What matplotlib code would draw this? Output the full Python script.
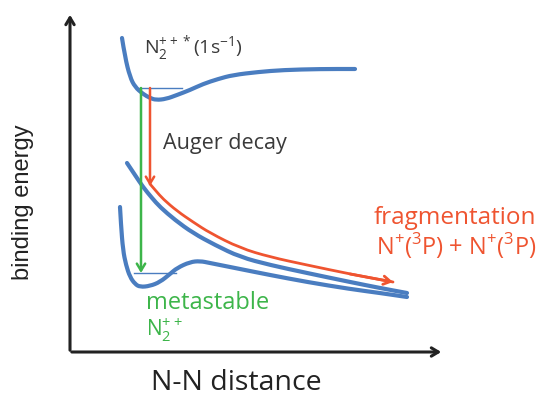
import numpy as np
import matplotlib.pyplot as plt
from matplotlib.path import Path
from matplotlib.patches import PathPatch

plt.rcParams['font.family'] = ['Open Sans', 'DejaVu Sans']

# curves (x = N-N distance, y = binding energy, in picture units)
upper_x = [122, 125, 130, 135, 143, 150, 156, 166, 177, 190, 203, 218, 233, 258, 283, 320, 355]
upper_y = [38, 57, 77, 87, 94, 98, 100, 99, 95, 90, 84, 79, 75, 72, 70, 69, 69]

dissoc_x = [127, 135, 143, 152, 160, 175, 193, 215, 240, 270, 307, 350, 380, 407]
dissoc_y = [163, 175, 187, 198, 207, 220, 233, 245, 257, 265, 273, 282, 288, 293]

meta_x = [120, 121, 123, 126, 130, 135, 140, 150, 160, 170, 177, 190, 200, 210, 225, 240, 270, 307, 350, 380, 407]
meta_y = [207, 225, 250, 265, 277, 284, 287, 286, 282, 274, 268, 262, 261, 263, 266, 269, 275, 282, 289, 293, 297]

frag_x = [150, 156, 163, 177, 193, 210, 240, 270, 307, 350, 393]
frag_y = [184, 191, 199, 211, 222, 233, 248, 257, 265, 274, 282]

level_upper = (88, 137, 182)   # y, x0, x1
level_meta = (273, 134, 176)
auger = (150, 88, 186)         # x, y0, y1
green = (141, 88, 273)

blue = '#4a7dc0'
red = '#ef5430'
grn = '#3db54a'
txt = '#3a3a3a'


def smooth_path(xs, ys):
    # quadratic B-spline through the traced control points
    pts = list(zip(xs, ys))
    verts = [pts[0]]
    codes = [Path.MOVETO]
    for i in range(1, len(pts) - 1):
        mid = ((pts[i][0] + pts[i + 1][0]) / 2, (pts[i][1] + pts[i + 1][1]) / 2)
        verts += [pts[i], mid]
        codes += [Path.CURVE3, Path.CURVE3]
    verts.append(pts[-1])
    codes.append(Path.LINETO)
    return Path(verts, codes)


fig = plt.figure(figsize=(5.43, 4.01), dpi=100)
ax = fig.add_axes([0, 0, 1, 1])
ax.set_xlim(0, 543)
ax.set_ylim(401, 0)
ax.axis('off')

head = '->,head_length=0.5,head_width=0.3'

# axes arrows
ax.annotate('', xy=(70, 12), xytext=(70, 353),
            arrowprops=dict(arrowstyle=head, lw=2.2, color='#222222'))
ax.annotate('', xy=(444, 352), xytext=(69, 352),
            arrowprops=dict(arrowstyle=head, lw=2.2, color='#222222'))

# potential curves
for xs, ys in [(upper_x, upper_y), (dissoc_x, dissoc_y), (meta_x, meta_y)]:
    ax.add_patch(PathPatch(smooth_path(xs, ys), facecolor='none', edgecolor=blue,
                           lw=3.0, capstyle='round', joinstyle='round'))

# vibrational levels
ax.plot([level_upper[1], level_upper[2]], [level_upper[0]] * 2, color=blue, lw=1.0)
ax.plot([level_meta[1], level_meta[2]], [level_meta[0]] * 2, color=blue, lw=1.0)

# transitions
ax.annotate('', xy=(green[0], green[2]), xytext=(green[0], green[1]),
            arrowprops=dict(arrowstyle=head, lw=1.8, color=grn, shrinkA=0, shrinkB=0))
ax.annotate('', xy=(auger[0], auger[2]), xytext=(auger[0], auger[1]),
            arrowprops=dict(arrowstyle=head, lw=1.8, color=red, shrinkA=0, shrinkB=0))
ax.add_patch(PathPatch(smooth_path(frag_x, frag_y), facecolor='none', edgecolor=red,
                       lw=2.0, capstyle='round', joinstyle='round'))
ax.annotate('', xy=(frag_x[-1], frag_y[-1]), xytext=(frag_x[-2], frag_y[-2]),
            arrowprops=dict(arrowstyle=head, lw=2.0, color=red, shrinkA=0, shrinkB=0))

# labels
ax.text(144, 48, r'N$_\mathregular{2}^\mathregular{++*}$(1s$^\mathregular{-1}$)', fontsize=14,
        color=txt, va='center', ha='left')
ax.text(163, 143, 'Auger decay', fontsize=15.5, color=txt, va='center', ha='left')
ax.text(374, 218, 'fragmentation', fontsize=17.5, color=red, va='center', ha='left')
ax.text(376, 246, r'N$^\mathregular{+}$($^\mathregular{3}$P) + N$^\mathregular{+}$($^\mathregular{3}$P)',
        fontsize=17, color=red, va='center', ha='left')
ax.text(146, 303, 'metastable', fontsize=17, color=grn, va='center', ha='left')
ax.text(146, 330, r'N$_\mathregular{2}^\mathregular{++}$', fontsize=15, color=grn, va='center', ha='left')
ax.text(23, 202, 'binding energy', fontsize=17, color='#222222', rotation=90,
        va='center', ha='center', family=['Liberation Sans Narrow', 'Liberation Sans'])
ax.text(236, 383, 'N-N distance', fontsize=20.5, color='#222222', va='center', ha='center')

fig.savefig('out.png', dpi=100)
plt.close(fig)
